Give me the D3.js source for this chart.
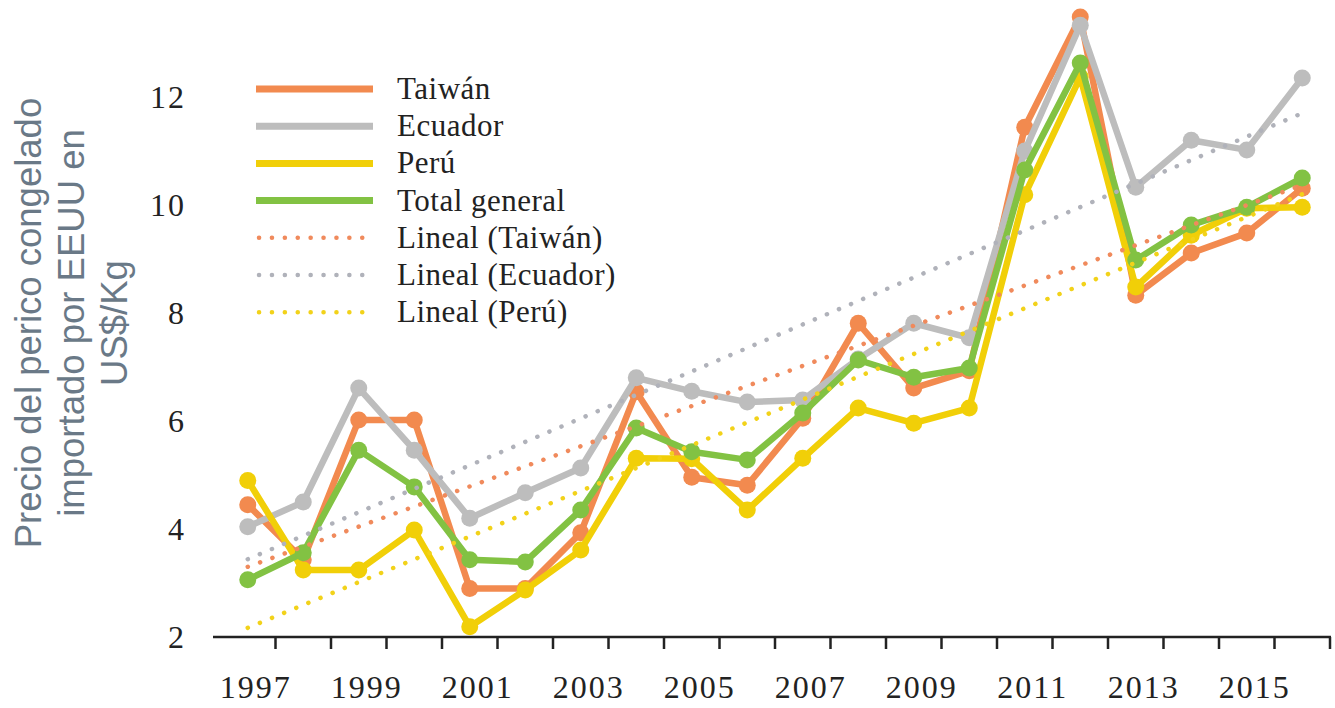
<!DOCTYPE html>
<html>
<head>
<meta charset="utf-8">
<script src="https://cdnjs.cloudflare.com/ajax/libs/d3/7.8.5/d3.min.js"></script>
<style>
	body { margin: 0; background: #fff; }
</style>
</head>
<body>
<div id="chart"></div>
<script>
//data
var years = [1997, 1998, 1999, 2000, 2001, 2002, 2003, 2004, 2005, 2006,
	2007, 2008, 2009, 2010, 2011, 2012, 2013, 2014, 2015, 2016];
var taiwan = [4.45, 3.43, 6.02, 6.02, 2.9, 2.9, 3.93, 6.54, 4.96, 4.81,
	6.05, 7.81, 6.61, 6.93, 11.44, 13.48, 8.33, 9.11, 9.48, 10.31];
var ecuador = [4.04, 4.5, 6.61, 5.46, 4.2, 4.67, 5.13, 6.8, 6.55, 6.35,
	6.39, 7.15, 7.81, 7.54, 11.0, 13.33, 10.33, 11.2, 11.02, 12.35];
var peru = [4.9, 3.24, 3.24, 3.98, 2.19, 2.87, 3.61, 5.31, 5.3, 4.35,
	5.31, 6.24, 5.96, 6.24, 10.19, 12.37, 8.48, 9.44, 9.94, 9.96];
var total = [3.06, 3.56, 5.46, 4.78, 3.43, 3.39, 4.35, 5.87, 5.43, 5.28,
	6.15, 7.13, 6.81, 6.98, 10.65, 12.63, 8.98, 9.63, 9.96, 10.5];

var seriesNames = ['Taiwán', 'Ecuador', 'Perú', 'Total general'];
var seriesColors = ['#f28a4f', '#bdbdbd', '#f1cf08', '#82c243'];

//linear trend lines, value at first and last year
var trendNames = ['Lineal (Taiwán)', 'Lineal (Ecuador)', 'Lineal (Perú)'];
var trendStart = [3.3, 3.44, 2.17];
var trendEnd = [10.37, 11.7, 10.2];
var trendColors = ['#f08a5c', '#b0b2ba', '#f2d21a'];

var yTicks = [2, 4, 6, 8, 10, 12];
var xLabels = [1997, 1999, 2001, 2003, 2005, 2007, 2009, 2011, 2013, 2015];
var yTitle = ['Precio del perico congelado', 'importado por EEUU en', 'US$/Kg'];

var svg = d3.select('#chart').append('svg')
	.attr('width', 1335)
	.attr('height', 708);

var x = d3.scaleBand()
	.domain(years)
	.range([220, 1330])
	.padding(0);

var y = d3.scaleLinear()
	.domain([2, 12])
	.range([637, 97]);

function cx(yr) {
	return x(yr) + x.bandwidth() / 2;
}

var serifFont = "'Liberation Serif', Georgia, serif";

//y axis title
var title = svg.append('g')
	.attr('transform', 'translate(0,323) rotate(-90)');
title.selectAll('text')
	.data(yTitle)
	.enter()
	.append('text')
	.attr('x', 0)
	.attr('y', function (d, i) { return 41 + i * 43; })
	.attr('text-anchor', 'middle')
	.style('font-family', "'Liberation Sans', Arial, sans-serif")
	.style('font-size', '36.5px')
	.attr('fill', '#6a7987')
	.text(function (d) { return d; });

//y axis labels, no line
var yAxis = d3.axisLeft(y)
	.tickValues(yTicks)
	.tickSize(0)
	.tickPadding(0);
var gy = svg.append('g')
	.attr('transform', 'translate(186,0)')
	.call(yAxis);
gy.select('.domain').remove();
gy.selectAll('text')
	.attr('dy', '0.33em')
	.style('font-family', serifFont)
	.style('font-size', '32px')
	.style('letter-spacing', '2px')
	.attr('fill', '#222');

//x axis: ticks on the borders of the years, labels every other year
var gx = svg.append('g')
	.attr('transform', 'translate(0,637)');
gx.call(d3.axisBottom(x).tickValues(xLabels).tickSize(0));
gx.select('.domain').remove();
gx.selectAll('text')
	.attr('x', 8)
	.attr('y', 61)
	.attr('dy', 0)
	.style('font-family', serifFont)
	.style('font-size', '32px')
	.style('letter-spacing', '2px')
	.attr('fill', '#222');
gx.append('line')
	.attr('x1', 213)
	.attr('x2', 1331)
	.attr('y1', 0)
	.attr('y2', 0)
	.attr('stroke', '#222')
	.attr('stroke-width', 2.5);
gx.selectAll('.border')
	.data(years)
	.enter()
	.append('line')
	.attr('class', 'border')
	.attr('x1', function (d) { return x(d) + x.bandwidth(); })
	.attr('x2', function (d) { return x(d) + x.bandwidth(); })
	.attr('y1', 0)
	.attr('y2', 12)
	.attr('stroke', '#222')
	.attr('stroke-width', 2.5);

//series lines with markers
var allSeries = [taiwan, ecuador, peru, total];
var line = d3.line()
	.x(function (d, i) { return cx(years[i]); })
	.y(function (d) { return y(d); });

allSeries.forEach(function (values, s) {
	var g = svg.append('g');
	g.append('path')
		.datum(values)
		.attr('d', line)
		.attr('fill', 'none')
		.attr('stroke', seriesColors[s])
		.attr('stroke-width', 6.5)
		.attr('stroke-linejoin', 'round');
	g.selectAll('circle')
		.data(values)
		.enter()
		.append('circle')
		.attr('cx', function (d, i) { return cx(years[i]); })
		.attr('cy', function (d) { return y(d); })
		.attr('r', 8.5)
		.attr('fill', seriesColors[s]);
});

//trend lines, dotted
trendNames.forEach(function (name, t) {
	svg.append('line')
		.attr('x1', cx(years[0]))
		.attr('y1', y(trendStart[t]))
		.attr('x2', cx(years[years.length - 1]))
		.attr('y2', y(trendEnd[t]))
		.attr('stroke', trendColors[t])
		.attr('stroke-width', 4.5)
		.attr('stroke-linecap', 'round')
		.attr('stroke-dasharray', '0.1 13');
});

//legend
var legendItems = [];
seriesNames.forEach(function (n, i) {
	legendItems.push({ name: n, color: seriesColors[i], dotted: false });
});
trendNames.forEach(function (n, i) {
	legendItems.push({ name: n, color: trendColors[i], dotted: true });
});

var legend = svg.append('g');
var rows = legend.selectAll('g')
	.data(legendItems)
	.enter()
	.append('g')
	.attr('transform', function (d, i) { return 'translate(0,' + (89 + i * 37.2) + ')'; });
rows.append('line')
	.attr('x1', function (d) { return d.dotted ? 259 : 256; })
	.attr('x2', 373)
	.attr('y1', 0)
	.attr('y2', 0)
	.attr('stroke', function (d) { return d.color; })
	.attr('stroke-width', function (d) { return d.dotted ? 4.5 : 7; })
	.attr('stroke-linecap', function (d) { return d.dotted ? 'round' : 'butt'; })
	.attr('stroke-dasharray', function (d) { return d.dotted ? '0.1 12.8' : null; });
rows.append('text')
	.attr('x', 397)
	.attr('y', 10)
	.style('font-family', serifFont)
	.style('font-size', '31px')
	.style('letter-spacing', '0.5px')
	.attr('fill', '#222')
	.text(function (d) { return d.name; });
</script>
</body>
</html>
